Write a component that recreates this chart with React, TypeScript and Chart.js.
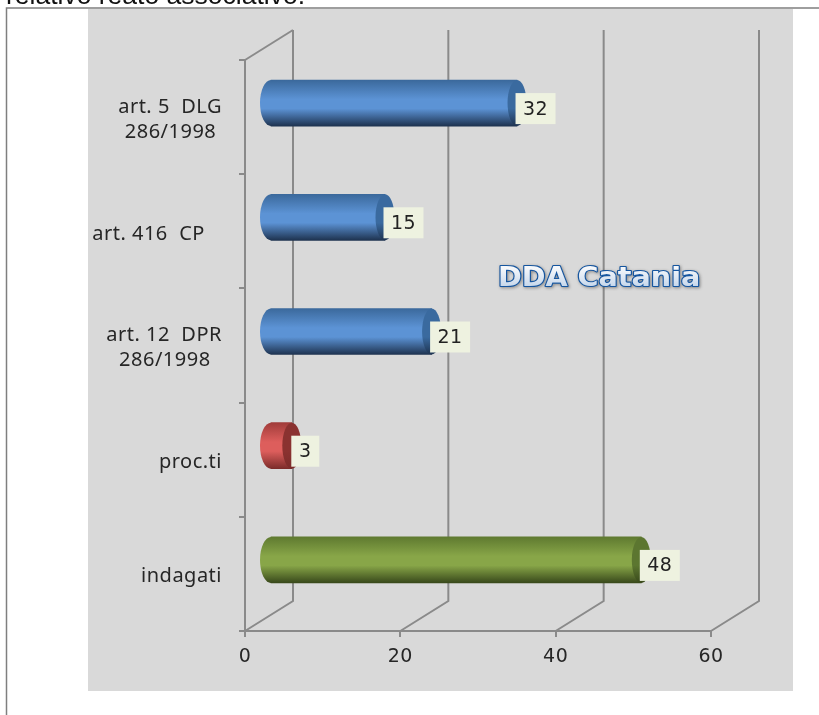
import React, { useEffect, useRef } from "react";
import { Chart, registerables } from "chart.js";

Chart.register(...registerables);

const categories: (string | string[])[] = [
  ["art. 5  DLG", "286/1998 "],
  "art. 416  CP   ",
  ["art. 12  DPR", "286/1998  "],
  "proc.ti",
  "indagati",
];
const values = [32, 15, 21, 3, 48];
const bodyStops = [
  ["#3b699c", "#5c93d5", "#1e3350"],
  ["#3b699c", "#5c93d5", "#1e3350"],
  ["#3b699c", "#5c93d5", "#1e3350"],
  ["#a13c3a", "#dd5e5c", "#7b2c2a"],
  ["#5f7a30", "#88a648", "#39491b"],
];
const capColors = ["#3a6a9f", "#3a6a9f", "#3a6a9f", "#8a3230", "#5c7630"];
const xTicks = [0, 20, 40, 60];
const overlayTitle = "DDA Catania";
const clippedCaption = "relativo reato associativo.";

const GRID = "#8a8a8a";
const DEPTH_X = 48;
const DEPTH_Y = 30;
const BAR_H = 46;
const SHIFT_Y = -14;
const START_OFFSET = 15;
const TIP_OFFSET = 33;
const LEFT_RX = 11;
const CAP_RX = 9.5;

function gradientFor(c: CanvasRenderingContext2D, cy: number, stops: string[]) {
  const g = c.createLinearGradient(0, cy - BAR_H / 2, 0, cy + BAR_H / 2);
  g.addColorStop(0, stops[0]);
  g.addColorStop(0.42, stops[1]);
  g.addColorStop(0.62, stops[1]);
  g.addColorStop(1, stops[2]);
  return g;
}

const panelPlugin = {
  id: "panel",
  beforeDraw(chart: any) {
    const c = chart.ctx as CanvasRenderingContext2D;
    c.save();
    c.fillStyle = "#ffffff";
    c.fillRect(0, 0, 819, 715);
    c.fillStyle = "#d9d9d9";
    c.fillRect(88, 9, 705, 682);
    c.strokeStyle = "#7f7f7f";
    c.lineWidth = 1.5;
    c.beginPath();
    c.moveTo(6.5, 715);
    c.lineTo(6.5, 8);
    c.lineTo(819, 8);
    c.stroke();
    c.fillStyle = "#111111";
    c.font = '26.5px "Liberation Sans"';
    c.textAlign = "left";
    c.textBaseline = "alphabetic";
    c.fillText(clippedCaption, 6, 4);
    c.restore();
    (c as any).letterSpacing = "0.5px";
  },
};

const wallsPlugin = {
  id: "walls",
  beforeDatasetsDraw(chart: any) {
    const c = chart.ctx as CanvasRenderingContext2D;
    const { x, y } = chart.scales;
    const top = y.top;
    const bottom = y.bottom;
    c.save();
    c.strokeStyle = GRID;
    c.lineWidth = 2;
    xTicks.forEach((t) => {
      const px = x.getPixelForValue(t);
      c.beginPath();
      c.moveTo(px, bottom);
      c.lineTo(px + DEPTH_X, bottom - DEPTH_Y);
      c.lineTo(px + DEPTH_X, top - DEPTH_Y);
      c.stroke();
    });
    const x0 = x.getPixelForValue(0);
    c.beginPath();
    c.moveTo(x0, top);
    c.lineTo(x0 + DEPTH_X, top - DEPTH_Y);
    c.stroke();
    c.restore();
  },
};

const cylinderPlugin = {
  id: "cylinder",
  afterDatasetsUpdate(chart: any) {
    const x0 = chart.scales.x.getPixelForValue(0);
    chart.getDatasetMeta(0).data.forEach((el: any) => {
      const tip = el.x;
      el.y = el.y + SHIFT_Y;
      el.base = x0 + START_OFFSET + LEFT_RX;
      el.x = tip + TIP_OFFSET - CAP_RX;
    });
  },
  afterDatasetsDraw(chart: any) {
    const c = chart.ctx as CanvasRenderingContext2D;
    chart.getDatasetMeta(0).data.forEach((el: any, i: number) => {
      const left = el.base;
      const cap = el.x;
      const cy = el.y;
      c.save();
      c.fillStyle = gradientFor(c, cy, bodyStops[i]);
      c.beginPath();
      c.ellipse(left, cy, LEFT_RX, BAR_H / 2, 0, Math.PI / 2, (3 * Math.PI) / 2);
      c.closePath();
      c.fill();
      c.beginPath();
      c.ellipse(cap, cy, CAP_RX, BAR_H / 2, 0, 0, Math.PI * 2);
      c.fillStyle = gradientFor(c, cy, [capColors[i], capColors[i], bodyStops[i][2]]);
      c.fill();
      c.restore();

      const text = String(values[i]);
      const w = text.length > 1 ? 40 : 28;
      const tipX = cap + CAP_RX;
      const bx = text.length > 1 ? tipX - 11 : tipX - 10;
      const by = cy - 10;
      const bh = 31;
      c.save();
      c.fillStyle = "#eef2e0";
      c.fillRect(bx, by, w, bh);
      c.fillStyle = "#222222";
      c.font = '19px "DejaVu Sans"';
      c.textAlign = "center";
      c.textBaseline = "middle";
      c.fillText(text, bx + w / 2, by + bh / 2 + 1);
      c.restore();
    });
  },
};

const titlePlugin = {
  id: "overlayTitle",
  afterDraw(chart: any) {
    const c = chart.ctx as CanvasRenderingContext2D;
    (c as any).letterSpacing = "0px";
    c.save();
    c.translate(498, 286);
    c.scale(1.1, 1);
    c.font = 'bold 26px "DejaVu Sans"';
    c.textAlign = "left";
    c.textBaseline = "alphabetic";
    c.lineJoin = "round";
    c.shadowColor = "rgba(40,40,40,0.5)";
    c.shadowBlur = 3;
    c.shadowOffsetX = 1;
    c.shadowOffsetY = 1;
    c.strokeStyle = "#15559f";
    c.lineWidth = 2.2;
    c.strokeText(overlayTitle, 0, 0);
    c.shadowColor = "transparent";
    const g = c.createLinearGradient(0, -18, 0, 2);
    g.addColorStop(0, "#f6f8fb");
    g.addColorStop(1, "#c3d5ea");
    c.fillStyle = g;
    c.fillText(overlayTitle, 0, 0);
    c.restore();
  },
};

export default function App() {
  const ref = useRef<HTMLCanvasElement | null>(null);
  useEffect(() => {
    if (!ref.current) return;
    const chart = new Chart(ref.current, {
      type: "bar",
      data: {
        labels: categories as any,
        datasets: [
          {
            data: values,
            barThickness: BAR_H,
            borderWidth: 0,
            backgroundColor: (ctx: any) => {
              const i = ctx.dataIndex;
              if (i === undefined) return "#5c93d5";
              const y = ctx.chart.scales.y;
              const cy = y ? y.getPixelForValue(i) + SHIFT_Y : NaN;
              if (!Number.isFinite(cy)) return bodyStops[i][1];
              return gradientFor(ctx.chart.ctx, cy, bodyStops[i]);
            },
          } as any,
        ],
      },
      options: {
        indexAxis: "y",
        animation: false,
        responsive: false,
        layout: { padding: { top: 60, right: 108, left: 0, bottom: 0 } },
        plugins: { legend: { display: false }, tooltip: { enabled: false }, title: { display: false } },
        scales: {
          x: {
            min: 0,
            max: 60,
            afterBuildTicks: (s: any) => {
              s.ticks = xTicks.map((v) => ({ value: v }));
            },
            afterFit: (s: any) => {
              s.height = 84;
            },
            grid: { drawOnChartArea: false, drawTicks: true, tickLength: 6, color: GRID, lineWidth: 2 },
            border: { color: GRID, width: 2 },
            ticks: {
              padding: 9,
              maxRotation: 0,
              color: "#262626",
              font: { family: '"DejaVu Sans"', size: 19 },
            },
          },
          y: {
            afterFit: (s: any) => {
              s.width = 245;
            },
            grid: { drawOnChartArea: false, drawTicks: true, tickLength: 6, color: GRID, lineWidth: 2, offset: true },
            border: { color: GRID, width: 2 },
            ticks: {
              padding: 17,
              autoSkip: false,
              labelOffset: 2.5,
              color: "#262626",
              font: { family: '"Noto Sans"', size: 20, lineHeight: 1.25 },
            },
          },
        },
      },
      plugins: [panelPlugin, wallsPlugin, cylinderPlugin, titlePlugin],
    } as any);
    return () => chart.destroy();
  }, []);
  return (
    <div style={{ position: "absolute", left: 0, top: 0, width: 819, height: 715, overflow: "hidden" }}>
      <canvas ref={ref} width={819} height={715} style={{ display: "block", width: 819, height: 715 }} />
    </div>
  );
}
